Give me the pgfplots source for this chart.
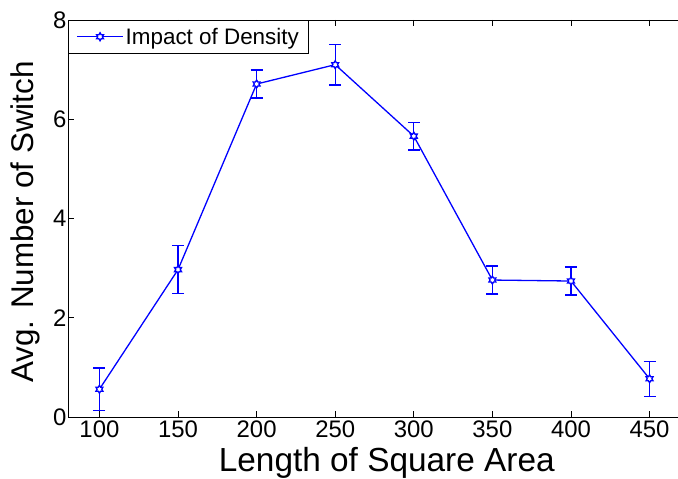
\documentclass[border=0pt]{standalone}
\usepackage{pgfplots}
\pgfplotsset{compat=1.18}
\usepackage{fontspec}
\setmainfont{Liberation Sans}

\pgfdeclareplotmark{hexagram}{%
 \pgfpathmoveto{\pgfpointpolar{90}{\pgfplotmarksize}}%
 \pgfpathlineto{\pgfpointpolar{120}{0.577\pgfplotmarksize}}%
 \pgfpathlineto{\pgfpointpolar{150}{\pgfplotmarksize}}%
 \pgfpathlineto{\pgfpointpolar{180}{0.577\pgfplotmarksize}}%
 \pgfpathlineto{\pgfpointpolar{210}{\pgfplotmarksize}}%
 \pgfpathlineto{\pgfpointpolar{240}{0.577\pgfplotmarksize}}%
 \pgfpathlineto{\pgfpointpolar{270}{\pgfplotmarksize}}%
 \pgfpathlineto{\pgfpointpolar{300}{0.577\pgfplotmarksize}}%
 \pgfpathlineto{\pgfpointpolar{330}{\pgfplotmarksize}}%
 \pgfpathlineto{\pgfpointpolar{0}{0.577\pgfplotmarksize}}%
 \pgfpathlineto{\pgfpointpolar{30}{\pgfplotmarksize}}%
 \pgfpathlineto{\pgfpointpolar{60}{0.577\pgfplotmarksize}}%
 \pgfpathclose
 \pgfusepathqfillstroke
}

\pgfplotstableread{
x y e
100 0.56 0.43
150 2.97 0.48
200 6.71 0.28
250 7.10 0.41
300 5.66 0.28
350 2.76 0.28
400 2.74 0.28
450 0.77 0.35
}\density

\begin{document}
\begin{tikzpicture}
\begin{axis}[
  name=ax, at={(0,0)}, anchor=south west,
  scale only axis, width=613bp, height=397bp,
  xmin=80, xmax=470, ymin=0, ymax=8,
  xtick={100,150,...,450}, ytick={0,2,...,8},
  ytick pos=left,
  tick align=inside, major tick length=6bp,
  axis line style={line width=0.8bp},
  every tick/.style={black, line width=0.8bp},
  /pgf/number format/assume math mode=true,
  ticklabel style={font=\fontsize{24}{28}\selectfont},
  yticklabel style={xshift=2bp},
  xlabel={Length of Square Area},
  xlabel style={font=\fontsize{33.5}{38}\selectfont, at={(axis description cs:0.52,0)}, anchor=base, yshift=-54bp},
  legend style={at={(0,1)}, anchor=north west, draw=black, line width=0.8bp,
    font=\fontsize{22.5}{26}\selectfont, inner xsep=8bp, inner ysep=5.5bp},
  legend cell align=left,
  legend image code/.code={%
    \draw[mark repeat=2,mark phase=2] plot coordinates {(0bp,0bp)(23bp,0bp)(46bp,0bp)};},
]
\addplot[blue, line width=1.3bp, mark=hexagram, mark size=4bp, mark options={fill=white, solid, line width=1.3bp},
  error bars/.cd, y dir=both, y explicit,
  error bar style={line width=1.3bp},
  error mark options={rotate=90, mark size=6bp, line width=1.3bp}]
  table[x=x, y=y, y error=e]{\density};
\addlegendentry{Impact of Density}
\end{axis}
\node[rotate=90, anchor=base, inner sep=0pt, font=\fontsize{31.5}{36}\selectfont] at (-35bp,195bp) {Avg. Number of Switch};
\pgfresetboundingbox
\useasboundingbox (-68bp,-62bp) rectangle (610bp,417bp);
\end{tikzpicture}
\end{document}
